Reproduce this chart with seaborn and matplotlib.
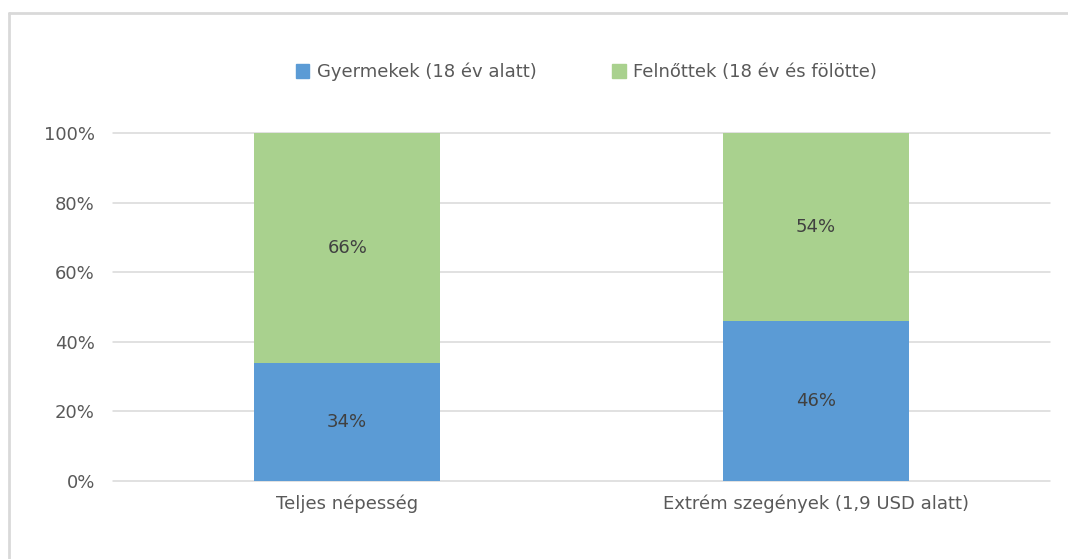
import numpy as np
import pandas as pd
import seaborn as sns
import matplotlib.pyplot as plt
from matplotlib.lines import Line2D
from matplotlib.patches import Patch
from matplotlib.ticker import PercentFormatter

categories = ["Teljes népesség", "Extrém szegények (1,9 USD alatt)"]
children = [34, 46]
adults = [66, 54]
series_names = ["Gyermekek (18 év alatt)", "Felnőttek (18 év és fölötte)"]

blue = "#5B9BD5"
green = "#A9D18E"
text_color = "#595959"

sns.set_theme(style="white")
plt.rcParams['font.family'] = ['DejaVu Sans']

df = pd.DataFrame({"cat": categories, "child": children, "adult": adults})
df["total"] = df["child"] + df["adult"]

fig = plt.figure(figsize=(10.68, 5.59), dpi=100)
ax = fig.add_axes([113 / 1068, 1 - 481 / 559, 937 / 1068, 348 / 559])

# stacked: full height in green, children drawn over it in blue
sns.barplot(data=df, x="cat", y="total", color=green, width=0.396, ax=ax,
            saturation=1, linewidth=0)
sns.barplot(data=df, x="cat", y="child", color=blue, width=0.396, ax=ax,
            saturation=1, linewidth=0)

for i, (c, a) in enumerate(zip(children, adults)):
    ax.text(i, c / 2, f"{c}%", ha="center", va="center", fontsize=13, color="#404040")
    ax.text(i, c + a / 2, f"{a}%", ha="center", va="center", fontsize=13, color="#404040")

ax.set_ylim(0, 100)
ax.set_xlim(-0.5, 1.5)
ax.set_yticks(np.arange(0, 101, 20))
ax.yaxis.set_major_formatter(PercentFormatter(decimals=0))
ax.grid(axis="y", color="#D9D9D9", linewidth=1.1)
for gl in ax.get_ygridlines():
    gl.set_clip_on(False)
ax.set_axisbelow(True)
for s in ax.spines.values():
    s.set_visible(False)
ax.set_xlabel("")
ax.set_ylabel("")
ax.tick_params(axis="y", labelsize=13, labelcolor=text_color, pad=13, length=0)
ax.tick_params(axis="x", labelsize=13, labelcolor=text_color, pad=10, length=0)

handles = [Patch(color=blue), Patch(color=green)]
fig.legend(handles, series_names, loc="center", bbox_to_anchor=(0.549, 1 - 72 / 559),
           ncol=2, frameon=False, fontsize=13, labelcolor=text_color,
           handlelength=0.75, handleheight=0.75, handletextpad=0.4, columnspacing=4.2)

# outer chart border (top and left visible)
fig.add_artist(Line2D([9 / 1068, 9 / 1068], [0, 1 - 13 / 559], transform=fig.transFigure,
                      color="#D9D9D9", linewidth=2))
fig.add_artist(Line2D([9 / 1068, 1], [1 - 13 / 559, 1 - 13 / 559], transform=fig.transFigure,
                      color="#D9D9D9", linewidth=2))

fig.savefig("out.png", dpi=100)
